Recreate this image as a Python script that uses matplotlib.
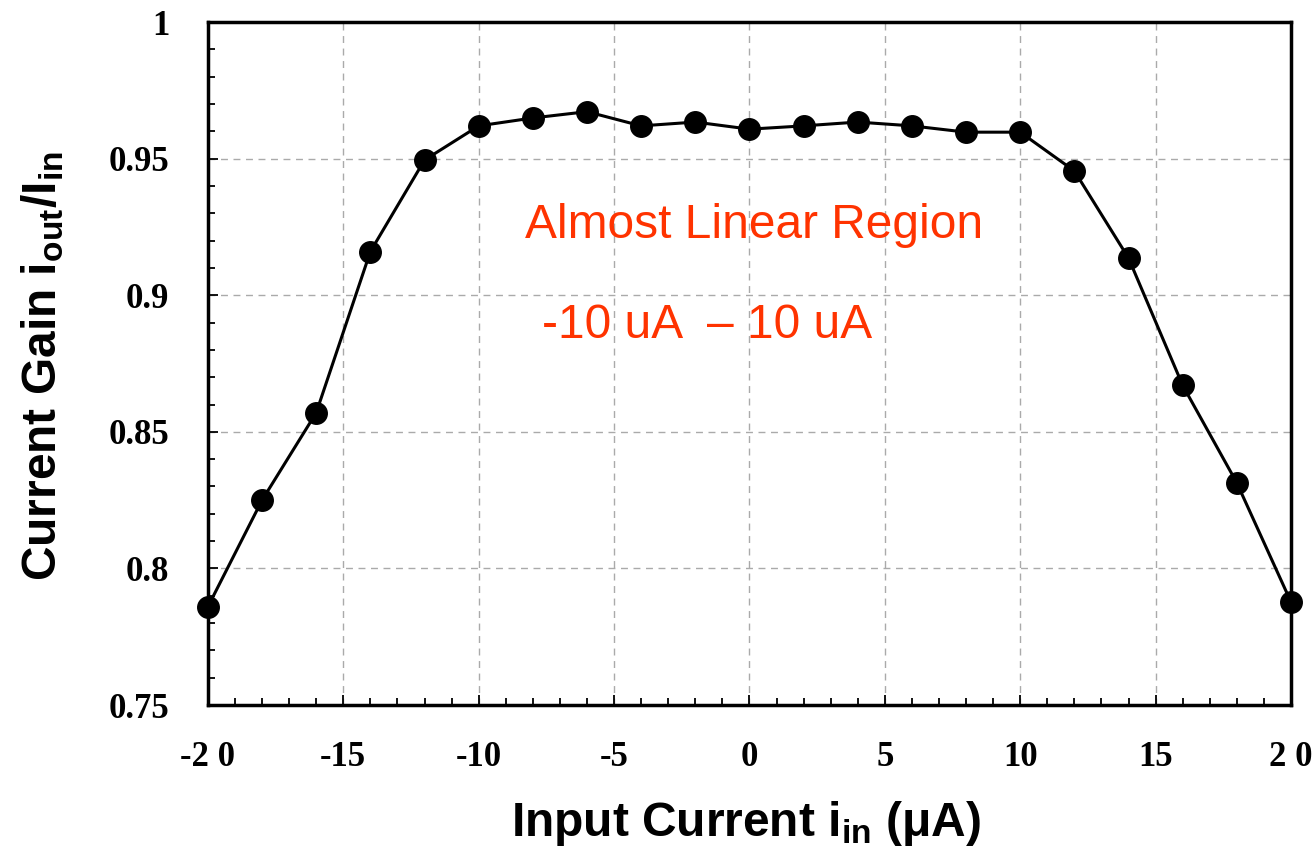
import matplotlib
matplotlib.use("Agg")
import matplotlib.pyplot as plt
from matplotlib.ticker import MultipleLocator

plt.rcParams["mathtext.fontset"] = "custom"
plt.rcParams["mathtext.rm"] = "Liberation Sans:bold"
plt.rcParams["mathtext.bf"] = "Liberation Sans:bold"
plt.rcParams["mathtext.it"] = "Liberation Sans:bold"

# input current (uA) and measured current gain
i_in = [-20, -18, -16, -14, -12, -10, -8, -6, -4, -2, 0,
        2, 4, 6, 8, 10, 12, 14, 16, 18, 20]
gain = [0.786, 0.825, 0.857, 0.916, 0.9495, 0.962, 0.9649, 0.9672, 0.962, 0.9634, 0.9608,
        0.962, 0.9634, 0.962, 0.9597, 0.9597, 0.9455, 0.9136, 0.867, 0.8313, 0.7877]

x_ticks = [-20, -15, -10, -5, 0, 5, 10, 15, 20]
x_tick_labels = ["-2 0", "-15", "-10", "-5", "0", "5", "10", "15", "2 0"]
y_ticks = [0.75, 0.8, 0.85, 0.9, 0.95, 1.0]
y_tick_labels = ["0.75", "0.8", "0.85", "0.9", "0.95", "1"]

fig = plt.figure(figsize=(13.16, 8.49), dpi=100)
ax = fig.add_axes([0.158, 0.1696, 0.823, 0.8044])

ax.plot(i_in, gain, color="black", lw=2.2, marker="o", markersize=15.5,
        markerfacecolor="black", markeredgecolor="black", clip_on=False, zorder=3)

ax.set_xlim(-20, 20)
ax.set_ylim(0.75, 1.0)
ax.set_xticks(x_ticks)
ax.set_xticklabels(x_tick_labels)
ax.set_yticks(y_ticks)
ax.set_yticklabels(y_tick_labels)
ax.xaxis.set_minor_locator(MultipleLocator(1))
ax.yaxis.set_minor_locator(MultipleLocator(0.01))

ax.tick_params(which="both", direction="in", top=False, right=False, width=1.3)
ax.tick_params(which="major", length=7)
ax.tick_params(which="minor", length=5)
ax.tick_params(axis="x", which="major", pad=26)
ax.tick_params(axis="y", which="major", pad=28)
for lab in ax.get_xticklabels() + ax.get_yticklabels():
    lab.set_fontfamily("Liberation Serif")
    lab.set_fontweight("bold")
    lab.set_fontsize(25)

for sp in ax.spines.values():
    sp.set_linewidth(2.5)

ax.grid(True, which="major", color="#aaaaaa", linestyle=(0, (5, 4)), linewidth=1)
ax.set_axisbelow(True)

ax.set_xlabel(r"Input Current i$_{\mathbf{in}}$ ($\mathbf{\mu}$A)",
              fontfamily="Liberation Sans", fontweight="bold", fontsize=34.5)
ax.xaxis.set_label_coords(0.497, -0.138)
ax.set_ylabel(r"Current Gain i$_{\mathbf{out}}$/I$_{\mathbf{in}}$",
              fontfamily="Liberation Sans", fontweight="bold", fontsize=34.5)
ax.yaxis.set_label_coords(-0.131, 0.496)

ax.text(-8.3, 0.9257, "Almost Linear Region", color="#ff3300",
        fontfamily="Liberation Sans", fontsize=34.5, ha="left", va="center")
ax.text(-7.66, 0.889, "-10 uA  \u2013 10 uA", color="#ff3300",
        fontfamily="Liberation Sans", fontsize=34.5, ha="left", va="center")

fig.savefig("out.png", dpi=100)
